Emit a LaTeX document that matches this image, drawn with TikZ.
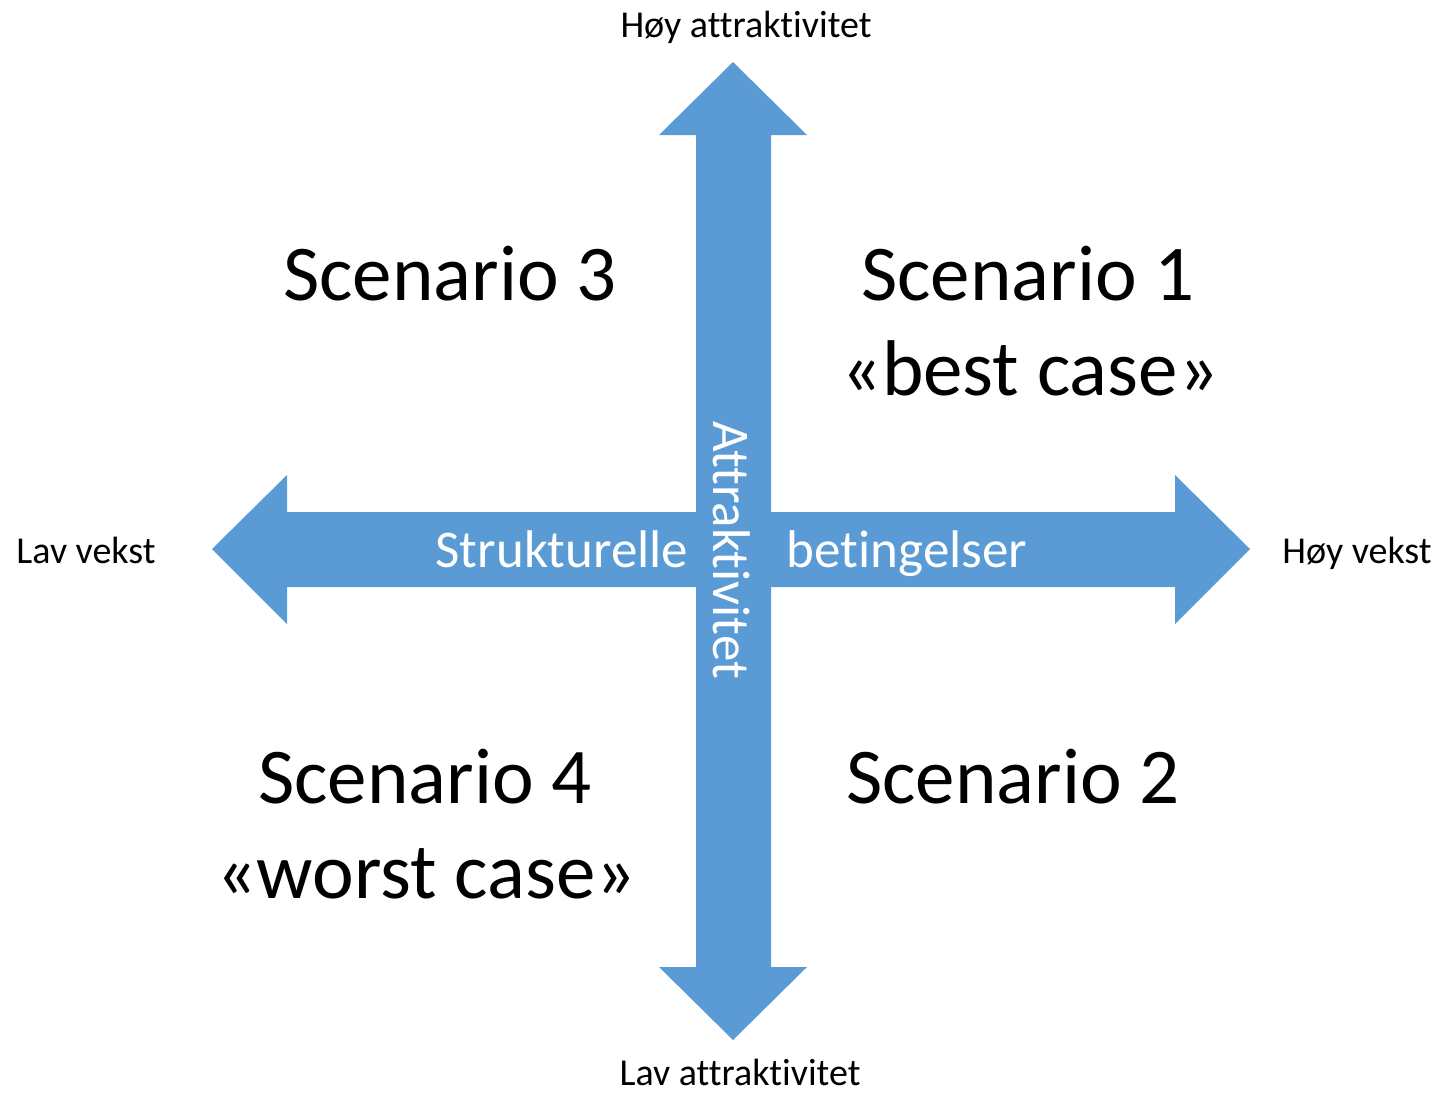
\documentclass[tikz,border=0pt]{standalone}
\usepackage{fontspec}
\setmainfont{Carlito}[Ligatures=NoCommon]
\definecolor{axisblue}{HTML}{5B9BD5}
\tikzset{
    axislabel/.style={anchor=base, inner sep=0pt, font=\fontsize{19}{23}\selectfont},
    axisname/.style={anchor=base, inner sep=0pt, text=white, font=\fontsize{26.5}{32}\selectfont},
    scenario/.style={anchor=base, inner sep=0pt, font=\fontsize{39.5}{47}\selectfont}
}

\begin{document}
\begin{tikzpicture}[x=0.5pt, y=-0.5pt]
        \useasboundingbox (0,0) rectangle (1445,1092);
        % horizontal double arrow
        \fill[axisblue] (212,549) -- (287,475) -- (287,512) -- (1175,512) -- (1175,475)
            -- (1250,549) -- (1175,624) -- (1175,587) -- (287,587) -- (287,624) -- cycle;
        % vertical double arrow
        \fill[axisblue] (733,62) -- (807,135) -- (771,135) -- (771,967) -- (807,967)
            -- (733,1040) -- (659,967) -- (696,967) -- (696,135) -- (659,135) -- cycle;
        % axis names
        \node[axisname] (struk) at (562,567) {Strukturelle};
        \node[axisname] (beting) at (907,567) {betingelser};
        \node[axisname, rotate=-90] (attr) at (713,550) {Attraktivitet};
        % ends of the axes
        \node[axislabel] (hoyattr) at (746,37) {Høy attraktivitet};
        \node[axislabel] (lavattr) at (740,1085) {Lav attraktivitet};
        \node[axislabel] (lavvekst) at (86,563) {Lav vekst};
        \node[axislabel] (hoyvekst) at (1357,563) {Høy vekst};
        % the four scenarios
        \node[scenario] (sc3) at (450,300) {Scenario 3};
        \node[scenario] (sc1) at (1028,300) {Scenario 1};
        \node[scenario] (sc1b) at (1030,395) {«best case»};
        \node[scenario] (sc4) at (425,803) {Scenario 4};
        \node[scenario] (sc4b) at (426,898) {«worst case»};
        \node[scenario] (sc2) at (1013,803) {Scenario 2};
    \end{tikzpicture}
\end{document}
